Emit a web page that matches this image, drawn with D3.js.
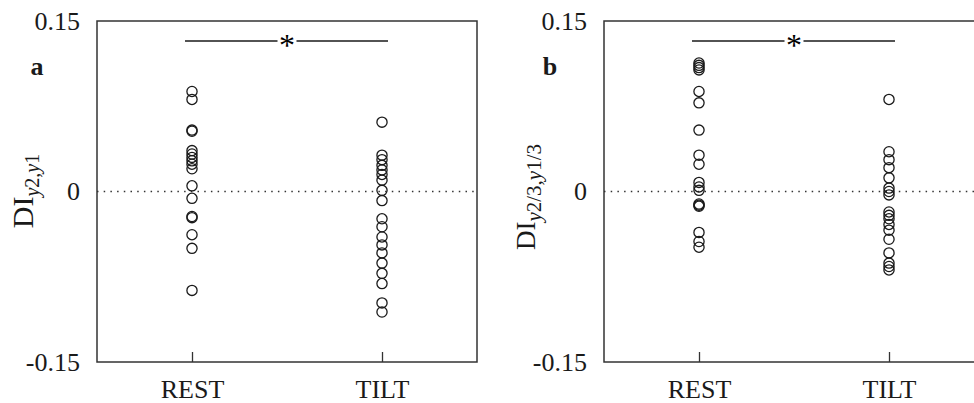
<!DOCTYPE html>
<html>
<head>
	<meta charset="utf-8">
	<script src="https://d3js.org/d3.v7.min.js"></script>
</head>
<body style="margin:0; background:#fff">
	<script>
		// Data
		var categories = ["REST", "TILT"];
		var yTicks = [-0.15, 0, 0.15];

		var restA = [0.088, 0.081, 0.054, 0.053, 0.036, 0.033, 0.030, 0.027, 0.024, 0.020, 0.005, -0.006, -0.022, -0.023, -0.038, -0.050, -0.087];
		var tiltA = [0.061, 0.032, 0.028, 0.023, 0.019, 0.015, 0.010, 0.001, -0.008, -0.024, -0.031, -0.040, -0.047, -0.054, -0.063, -0.072, -0.081, -0.098, -0.106];
		var restB = [0.113, 0.111, 0.109, 0.107, 0.088, 0.078, 0.054, 0.032, 0.024, 0.008, 0.004, 0.001, -0.011, -0.012, -0.013, -0.036, -0.044, -0.049];
		var tiltB = [0.081, 0.035, 0.028, 0.021, 0.012, 0.003, 0.000, -0.003, -0.018, -0.021, -0.024, -0.029, -0.034, -0.042, -0.054, -0.063, -0.066, -0.069];

		var width = 974, height = 403;
		var top_ = 21, bottom = 362;
		var FONT = "Liberation Serif";
		var INK = "#1a1a1a";

		var svg = d3.select("body").append("svg")
			.attr("width", width)
			.attr("height", height);

		svg.append("rect").attr("width", width).attr("height", height).attr("fill", "#fff");

		var panels = [
			{ left: 97, letter: "a", letterX: 37, rest: restA, tilt: tiltA, sub: ["y", "2,", "y", "1"], labelX: 33, labelY: 191, bigFont: 30, subFont: 20 },
			{ left: 604, letter: "b", letterX: 550, rest: restB, tilt: tiltB, sub: ["y", "2/3,", "y", "1/3"], labelX: 535, labelY: 197, bigFont: 27, subFont: 21 }
		];
		var panelW = 380;

		var fmt = function (d) { return d === 0 ? "0" : d3.format(".2f")(d).replace("\u2212", "-"); };

		panels.forEach(function (p) {
			var g = svg.append("g");

			var y = d3.scaleLinear().domain([-0.15, 0.15]).range([bottom, top_]);
			var x = d3.scalePoint().domain(categories).range([p.left, p.left + panelW]).padding(0.5);

			// zero line
			g.append("line")
				.attr("x1", p.left).attr("x2", p.left + panelW)
				.attr("y1", y(0)).attr("y2", y(0))
				.attr("stroke", "#333").attr("stroke-width", 1.5)
				.attr("stroke-dasharray", "1.5,5.2");

			// y axis labels
			var ya = g.append("g")
				.attr("transform", "translate(" + p.left + ",0)")
				.call(d3.axisLeft(y).tickValues(yTicks).tickSize(0).tickPadding(17).tickFormat(fmt));
			ya.select(".domain").remove();
			ya.selectAll("text").attr("fill", INK).attr("font-family", FONT).attr("font-size", 26);

			// x axis with inward ticks
			var xa = g.append("g")
				.attr("transform", "translate(0," + bottom + ")")
				.call(d3.axisBottom(x).tickSizeInner(-10).tickSizeOuter(0).tickPadding(17.5));
			xa.select(".domain").remove();
			xa.selectAll("line").attr("stroke", "#333").attr("stroke-width", 1.3);
			xa.selectAll("text").attr("fill", INK).attr("font-family", FONT).attr("font-size", 26);

			// frame
			g.append("rect")
				.attr("x", p.left).attr("y", top_)
				.attr("width", panelW).attr("height", bottom - top_)
				.attr("fill", "none").attr("stroke", "#333").attr("stroke-width", 1.5);

			// points
			var pts = [];
			p.rest.forEach(function (v) { pts.push({ c: "REST", v: v }); });
			p.tilt.forEach(function (v) { pts.push({ c: "TILT", v: v }); });
			g.selectAll("circle.pt").data(pts).enter().append("circle")
				.attr("class", "pt")
				.attr("cx", function (d) { return x(d.c); })
				.attr("cy", function (d) { return y(d.v); })
				.attr("r", 5.1)
				.attr("fill", "none")
				.attr("stroke", INK)
				.attr("stroke-width", 1.3);

			// significance bar
			var x0 = x("REST") - 7, x1 = x("TILT") + 6, xm = (x("REST") + x("TILT")) / 2, yb = 41;
			g.append("line").attr("x1", x0).attr("x2", xm - 9.5).attr("y1", yb).attr("y2", yb)
				.attr("stroke", INK).attr("stroke-width", 1.3);
			g.append("line").attr("x1", xm + 9.5).attr("x2", x1).attr("y1", yb).attr("y2", yb)
				.attr("stroke", INK).attr("stroke-width", 1.3);
			g.append("text").attr("x", xm).attr("y", yb + 15).attr("text-anchor", "middle")
				.attr("font-family", FONT).attr("fill", "#000")
				.attr("font-size", 32).text("*");

			// panel letter
			g.append("text").attr("x", p.letterX).attr("y", 75)
				.attr("text-anchor", "middle").attr("font-size", 26).attr("font-weight", "bold")
				.attr("font-family", FONT).attr("fill", INK)
				.text(p.letter);

			// y label
			var lab = g.append("text")
				.attr("transform", "translate(" + p.labelX + "," + p.labelY + ") rotate(-90)")
				.attr("text-anchor", "middle")
				.attr("font-family", FONT).attr("fill", INK)
				.attr("font-size", p.bigFont);
			lab.append("tspan").text("DI");
			p.sub.forEach(function (s, i) {
				var t = lab.append("tspan").attr("font-size", p.subFont).text(s);
				if (i === 0) t.attr("dy", p.subFont * 0.3);
				if (s === "y") t.attr("font-style", "italic");
			});
		});
	</script>
</body>
</html>
